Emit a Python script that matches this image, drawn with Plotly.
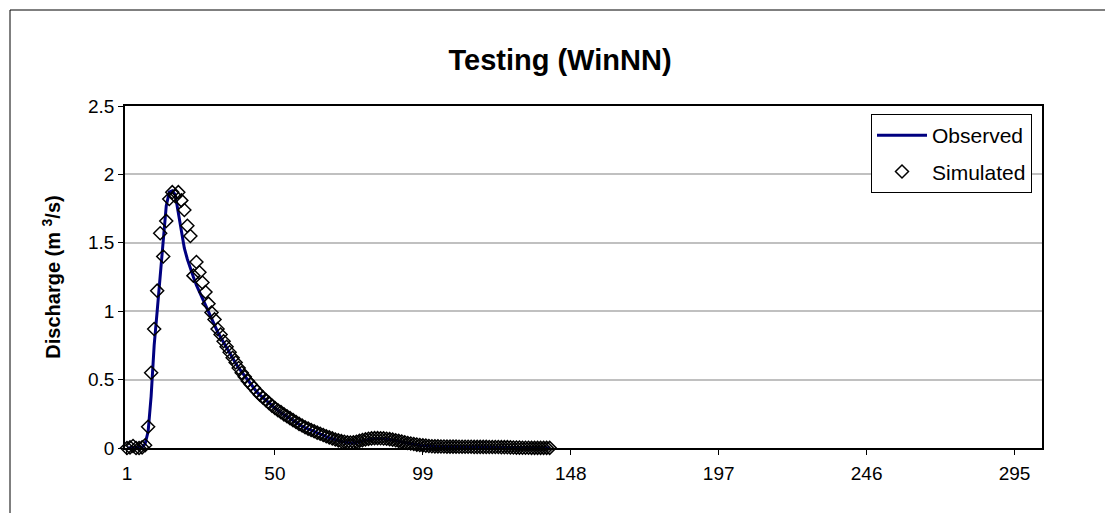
import plotly.graph_objects as go

# Discharge per time step (m3/s): observed hydrograph and WinNN simulation
observed = [
    0, 0, 0, 0, 0, 0.005, 0.03, 0.12, 0.38, 0.75,
    1.0, 1.26, 1.52, 1.77, 1.87, 1.88, 1.85, 1.72, 1.57, 1.46,
    1.38, 1.31, 1.25, 1.19, 1.14, 1.09, 1.04, 0.99, 0.94, 0.89,
    0.85, 0.81, 0.77, 0.73, 0.69, 0.655, 0.62, 0.585, 0.555, 0.525,
    0.495, 0.465, 0.435, 0.41, 0.388, 0.368, 0.348, 0.328, 0.308, 0.29,
    0.274, 0.258, 0.243, 0.228, 0.213, 0.198, 0.184, 0.171, 0.159, 0.148,
    0.138, 0.128, 0.118, 0.109, 0.1, 0.091, 0.083, 0.075, 0.067, 0.06,
    0.054, 0.048, 0.043, 0.039, 0.037, 0.037, 0.04, 0.046, 0.052, 0.058,
    0.062, 0.065, 0.067, 0.068, 0.068, 0.067, 0.065, 0.062, 0.058, 0.054,
    0.049, 0.044, 0.039, 0.034, 0.03, 0.026, 0.022, 0.019, 0.016, 0.014,
    0.012, 0.011, 0.01, 0.01, 0.009, 0.009, 0.009, 0.008, 0.008, 0.008,
    0.008, 0.008, 0.008, 0.007, 0.007, 0.007, 0.007, 0.007, 0.007, 0.006,
    0.006, 0.006, 0.006, 0.006, 0.005, 0.005, 0.005, 0.005, 0.004, 0.003,
    0.003, 0.002, 0.002, 0.002, 0.002, 0.001, 0.001, 0.001, 0.001, 0.001,
    0.001,
]

simulated = [
    0, 0.005, 0.015, 0, 0, 0.005, 0.02, 0.155, 0.55, 0.87,
    1.15, 1.57, 1.40, 1.66, 1.82, 1.87, 1.84, 1.87, 1.81, 1.74,
    1.625, 1.55, 1.26, 1.36, 1.285, 1.21, 1.14, 1.055, 0.99, 0.94,
    0.87, 0.83, 0.78, 0.74, 0.70, 0.66, 0.625, 0.585, 0.55, 0.52,
    0.49, 0.465, 0.44, 0.415, 0.39, 0.37, 0.35, 0.33, 0.31, 0.292,
    0.276, 0.262, 0.246, 0.232, 0.218, 0.204, 0.19, 0.176, 0.164, 0.152,
    0.142, 0.132, 0.122, 0.112, 0.104, 0.095, 0.086, 0.078, 0.07, 0.062,
    0.056, 0.05, 0.046, 0.042, 0.04, 0.042, 0.046, 0.052, 0.058, 0.063,
    0.067, 0.07, 0.072, 0.072, 0.071, 0.07, 0.068, 0.065, 0.061, 0.057,
    0.052, 0.047, 0.042, 0.037, 0.033, 0.029, 0.025, 0.022, 0.019, 0.017,
    0.015, 0.013, 0.012, 0.012, 0.011, 0.011, 0.01, 0.01, 0.01, 0.01,
    0.009, 0.009, 0.009, 0.009, 0.009, 0.008, 0.008, 0.008, 0.008, 0.008,
    0.007, 0.007, 0.007, 0.007, 0.006, 0.006, 0.006, 0.005, 0.004, 0.003,
    0.003, 0.002, 0.002, 0.002, 0.001, 0.001, 0.001, 0.001, 0.001, 0.001,
    0.001,
]

steps = list(range(1, len(observed) + 1))
x_ticks = [1, 50, 99, 148, 197, 246, 295]
y_ticks = [0, 0.5, 1, 1.5, 2, 2.5]
y_tick_text = ["0", "0.5", "1", "1.5", "2", "2.5"]

FONT = "Liberation Sans, Arial, sans-serif"
W, H = 1105, 513
L, R, T, B = 125, 63, 106, 65

fig = go.Figure()
fig.add_trace(go.Scatter(
    x=steps, y=observed, mode="lines", name="Observed", legendgroup="obs",
    line=dict(color="#000080", width=3),
    cliponaxis=False,
))
fig.add_trace(go.Scatter(
    x=steps, y=simulated, mode="markers", name="Simulated", legendgroup="sim",
    marker=dict(symbol="diamond-open", size=10, color="black",
                line=dict(color="black", width=1.5)),
    cliponaxis=False,
))

fig.update_layout(
    width=W, height=H,
    margin=dict(l=L, r=R, t=T, b=B),
    paper_bgcolor="white", plot_bgcolor="white",
    font=dict(family=FONT, color="black", size=19),
    title=dict(
        text="<b>Testing (WinNN)</b>",
        font=dict(family=FONT, size=29, color="black"),
        x=560 / W, xanchor="center",
        y=1 - 60 / H, yanchor="middle",
    ),
    xaxis=dict(
        range=[0.34, 304.1],
        tickmode="array", tickvals=x_ticks,
        ticks="outside", ticklen=5, tickcolor="black",
        showgrid=False, zeroline=False,
        showline=True, linecolor="black", linewidth=1.5, mirror=True,
        tickfont=dict(size=19),
        ticklabelstandoff=2,
    ),
    yaxis=dict(
        range=[0, 2.5],
        tickmode="array", tickvals=y_ticks, ticktext=y_tick_text,
        ticks="outside", ticklen=5, tickcolor="black",
        showgrid=True, gridcolor="#c0c0c0", gridwidth=1.5,
        zeroline=False,
        showline=True, linecolor="black", linewidth=1.5, mirror=True,
        tickfont=dict(size=19),
        title=dict(text="<b>Discharge (m <sup>3</sup>/s)</b>",
                   font=dict(size=20), standoff=22),
    ),
    legend=dict(
        x=(871 - L) / (W - L - R), xanchor="left",
        y=(H - B - 114) / (H - T - B), yanchor="top",
        bgcolor="white", bordercolor="black", borderwidth=1,
        font=dict(size=21),
        itemwidth=50,
        tracegroupgap=6,
    ),
    shapes=[
        # outer chart frame
        dict(type="line", xref="paper", yref="paper",
             x0=(10 - L) / (W - L - R), x1=(W + 5 - L) / (W - L - R),
             y0=(H - B - 10) / (H - T - B), y1=(H - B - 10) / (H - T - B),
             line=dict(color="black", width=1)),
        dict(type="line", xref="paper", yref="paper",
             x0=(10 - L) / (W - L - R), x1=(10 - L) / (W - L - R),
             y0=(H - B - 10) / (H - T - B), y1=(H - B - H - 5) / (H - T - B),
             line=dict(color="black", width=1)),
    ],
)

fig.write_html("out.html")
